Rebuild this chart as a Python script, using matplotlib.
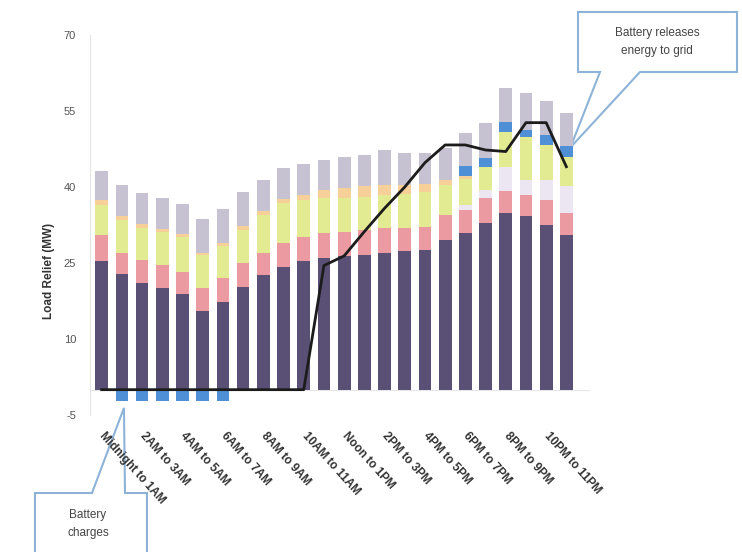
import numpy as np
import matplotlib
matplotlib.use("Agg")
import matplotlib.pyplot as plt
from matplotlib.patches import Polygon

plt.rcParams['font.family'] = ['Liberation Sans', 'DejaVu Sans']
plt.rcParams['axes.unicode_minus'] = False

hours = ["Midnight to 1AM", "1AM to 2AM", "2AM to 3AM", "3AM to 4AM", "4AM to 5AM",
         "5AM to 6AM", "6AM to 7AM", "7AM to 8AM", "8AM to 9AM", "9AM to 10AM",
         "10AM to 11AM", "11AM to Noon", "Noon to 1PM", "1PM to 2PM", "2PM to 3PM",
         "3PM to 4PM", "4PM to 5PM", "5PM to 6PM", "6PM to 7PM", "7PM to 8PM",
         "8PM to 9PM", "9PM to 10PM", "10PM to 11PM", "11PM to Midnight"]

# stacked load relief layers (MW), bottom to top
dark = [25.3, 22.8, 21.0, 20.1, 18.9, 15.6, 17.4, 20.3, 22.7, 24.3, 25.3, 26.0,
        26.4, 26.6, 27.0, 27.3, 27.6, 29.6, 31.0, 32.8, 34.8, 34.2, 32.5, 30.6]
pink = [5.3, 4.2, 4.6, 4.6, 4.4, 4.5, 4.6, 4.7, 4.3, 4.6, 4.9, 4.9,
        4.8, 5.0, 4.9, 4.7, 4.6, 4.9, 4.4, 5.0, 4.4, 4.3, 5.0, 4.2]
white = [0, 0, 0, 0, 0, 0, 0, 0, 0, 0, 0, 0,
         0, 0, 0, 0, 0, 0, 1.0, 1.7, 4.8, 2.9, 3.9, 5.3]
yellow = [5.9, 6.5, 6.3, 6.5, 6.9, 6.5, 6.3, 6.6, 7.5, 7.9, 7.3, 6.9,
          6.6, 6.5, 6.6, 6.7, 6.8, 5.9, 5.2, 4.5, 6.9, 8.4, 6.9, 5.9]
orange = [1.0, 0.8, 0.7, 0.6, 0.6, 0.4, 0.7, 0.8, 0.7, 0.8, 1.0, 1.6,
          2.0, 2.0, 1.9, 1.7, 1.6, 1.0, 0.6, 0, 0, 0, 0, 0]
battery = [0, -2.2, -2.2, -2.2, -2.2, -2.2, -2.2, 0, 0, 0, 0, 0,
           0, 0, 0, 0, 0, 0, 2.0, 1.8, 1.9, 1.5, 2.0, 2.0]
gray = [5.6, 6.1, 6.2, 6.0, 5.9, 6.7, 6.7, 6.6, 6.2, 6.1, 6.1, 6.0,
        6.2, 6.3, 6.9, 6.4, 6.2, 6.2, 6.4, 6.8, 6.8, 7.2, 6.6, 6.6]
net = [0, 0, 0, 0, 0, 0, 0, 0, 0, 0, 0, 24.5,
       26.4, 31.2, 35.8, 40.0, 44.8, 48.3, 48.3, 47.3, 47.0, 52.7, 52.7, 44.0]

fig = plt.figure(figsize=(7.42, 5.52), dpi=100)
ax = fig.add_axes([90/742, 137/552, 500/742, 380/552])
ax.patch.set_visible(False)

x = np.arange(len(hours))
w = 0.63
bottom = np.zeros(len(hours))
layers = [(dark, "#5a4f74"), (pink, "#ec9aa2"), (white, "#ebe6f1"),
          (yellow, "#e3eb92"), (orange, "#f7cf98")]
for vals, col in layers:
    v = np.array(vals)
    ax.bar(x, v, w, bottom=bottom, color=col, linewidth=0)
    bottom = bottom + v

bat = np.array(battery)
ax.bar(x, bat, w, bottom=np.where(bat > 0, bottom, 0), color="#4f8fd6", linewidth=0)
bottom = bottom + np.clip(bat, 0, None)
ax.bar(x, gray, w, bottom=bottom, color="#c7c2d2", linewidth=0)

ax.plot(x, net, color="#1c1c1c", lw=2, zorder=5)
ax.axhline(0, color="#e6e6e6", lw=0.8, zorder=0)

ax.set_xlim(-0.58, 24.17)
ax.set_ylim(-5, 70)
ax.set_yticks([-5, 10, 25, 40, 55, 70])
ax.tick_params(axis='y', length=0, labelsize=8, labelcolor="#555555", pad=10)
ax.set_xticks(x[::2])
ax.set_xticklabels(hours[::2], rotation=-48, ha='left', va='center',
                   rotation_mode='anchor', fontsize=8.5, fontweight='bold', color="#333333")
ax.tick_params(axis='x', length=0, pad=14)
for s in ['top', 'right', 'bottom']:
    ax.spines[s].set_visible(False)
ax.spines['left'].set_color("#e4e4e4")
ax.set_ylabel("Load Relief (MW)", fontsize=8.5, fontweight='bold', color="#333333")
ax.yaxis.set_label_coords(-0.07, 0.38)


def callout(box, base, tip, text, tx, ty):
    # box: (x0, y0, x1, y1) in pixels (y down), base: two x positions on edge, tip in data
    tx_fig, ty_fig = fig.transFigure.inverted().transform(ax.transData.transform(tip))
    x0, y0, x1, y1 = [v / 742 if i % 2 == 0 else 1 - v / 552 for i, v in enumerate(box)]
    b0, b1 = base[0] / 742, base[1] / 742
    if ty_fig > y0:
        pts = [(x0, y1), (x0, y0), (b0, y0), (tx_fig, ty_fig), (b1, y0), (x1, y0), (x1, y1)]
    else:
        pts = [(x0, y0), (x1, y0), (x1, y1), (b1, y1), (tx_fig, ty_fig), (b0, y1), (x0, y1)]
    poly = Polygon(pts, closed=True, transform=fig.transFigure, facecolor="white",
                   edgecolor="#8db3d8", lw=1.5, clip_on=False, zorder=-1)
    fig.add_artist(poly)
    fig.text(tx / 742, 1 - ty / 552, text, ha='center', va='center', fontsize=8.5,
             color="#444444", zorder=-1, linespacing=1.6)


callout((35, 493, 147, 560), (92, 125), (1.1, -3.6), "Battery\ncharges", 88, 524)
callout((578, 12, 737, 72), (600, 640), (23.2, 47.8), "Battery releases\nenergy to grid", 657, 42)

fig.savefig("out.png", dpi=100)
